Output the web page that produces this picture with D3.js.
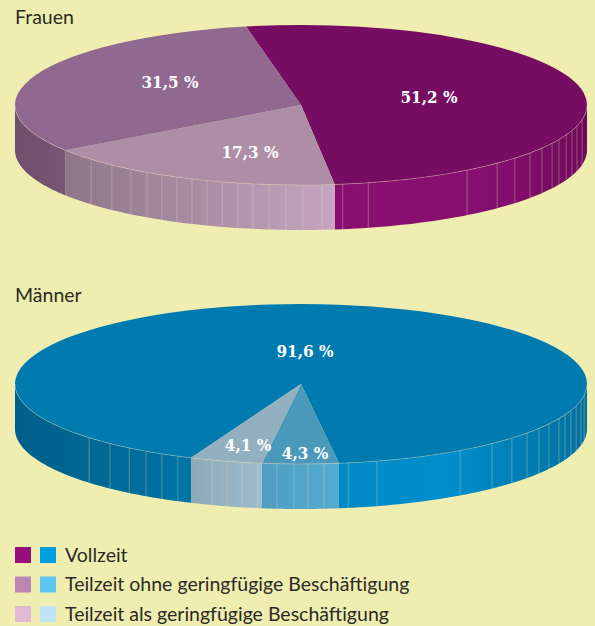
<!DOCTYPE html>
<html>
<head>
<meta charset="utf-8">
<script src="https://cdnjs.cloudflare.com/ajax/libs/d3/7.8.5/d3.min.js"></script>
<style>
html, body { margin: 0; padding: 0; background: #efedb0; }
svg { display: block; }
.title, .legend { font-family: "Lato"; font-size: 19.5px; fill: #2b2a26; }
.pct { font-family: "DejaVu Serif Condensed", "DejaVu Serif"; font-stretch: condensed; font-weight: bold; font-size: 17px; fill: #fff; text-anchor: middle; }
</style>
</head>
<body>
<script>
// values, clockwise as drawn
var frauenWerte = [51.2, 17.3, 31.5];
var maennerWerte = [91.6, 4.3, 4.1];
var frauenLabels = ["51,2 %", "17,3 %", "31,5 %"];
var maennerLabels = ["91,6 %", "4,3 %", "4,1 %"];
var legendTexts = ["Vollzeit", "Teilzeit ohne geringfügige Beschäftigung", "Teilzeit als geringfügige Beschäftigung"];

// colours per slice
var frauenTop = ["#760d62", "#ae8ea7", "#906890"];
var maennerTop = ["#007bb0", "#4a99ba", "#93b0c0"];
// wall colours run left to right over the width the slice takes up
var frauenWall = [["#880f70", "#880f70", "#840e6d", "#6f0a5a"], ["#8f7689", "#c5a5bf"], ["#6f4f6e", "#775573"]];
var maennerWall = [["#005f88", "#006f9f", "#0088c4", "#008fcc", "#00709f"], ["#4c9ec2", "#55acd0"], ["#8fa8b5", "#9cbdcd"]];
var legendFrauen = ["#960d7c", "#bb86b3", "#e4b9d6"];
var legendMaenner = ["#009fe0", "#5fc4ee", "#c0e4f6"];

// wall seams, degrees clockwise from the back of the disc
var frauenSeams = [100.7, 105.2, 108.6, 112, 115.6, 118.6, 122.6, 126.8, 131.6, 136.7, 144.5, 166.4, 171.6,
    175.8, 179.6, 183, 186.4, 189.7, 192.7, 196, 199.2, 202.4, 205.7, 209.1, 212.6, 216.5, 221.4, 227.2];
var maennerSeams = [98.1, 101.8, 105.8, 109.3, 112.6, 115.6, 119.9, 123.7, 127.8, 132.5, 138.1, 146.2, 164.6, 170.5,
    175.4, 178.6, 181.4, 184.8, 188.7, 191.9, 195, 198.1, 205.5, 209.1, 212.8, 216.9, 221.9, 227.8];

var w = 595;
var h = 626;
var rx = 286;
var ry = 80;
var depth = 45;

var svg = d3.select("body").append("svg")
    .attr("width", w)
    .attr("height", h);

var defs = svg.append("defs");

function drawDisc(name, cy, values, labels, startDeg, tops, walls, seams, labelPos) {
    var x = d3.scaleLinear().domain([-1, 1]).range([301 - rx, 301 + rx]);
    var y = d3.scaleLinear().domain([-1, 1]).range([cy - ry, cy + ry]);
    var rad = function(deg) { return deg * Math.PI / 180; };

    var slices = d3.pie().sort(null)
        .startAngle(rad(startDeg))
        .endAngle(rad(startDeg + 360))(values);

    var g = svg.append("g");

    var wallArea = d3.area()
        .x(function(a) { return x(Math.sin(a)); })
        .y0(function(a) { return y(-Math.cos(a)); })
        .y1(function(a) { return y(-Math.cos(a)) + depth; });

    // front wall of each slice, only the part facing us
    slices.forEach(function(s, i) {
        var ranges = [[s.startAngle, s.endAngle], [s.startAngle + 2 * Math.PI, s.endAngle + 2 * Math.PI]]
            .map(function(r) { return [Math.max(r[0], Math.PI / 2), Math.min(r[1], 3 * Math.PI / 2)]; })
            .filter(function(r) { return r[1] > r[0]; });

        var points = ranges.map(function(r) {
            return d3.range(0, 61).map(function(k) { return r[0] + (r[1] - r[0]) * k / 60; });
        });
        var xs = d3.merge(points).map(function(a) { return x(Math.sin(a)); });

        var id = name + "w" + i;
        var grad = defs.append("linearGradient")
            .attr("id", id)
            .attr("gradientUnits", "userSpaceOnUse")
            .attr("x1", d3.min(xs)).attr("x2", d3.max(xs))
            .attr("y1", 0).attr("y2", 0);
        walls[i].forEach(function(c, k) {
            grad.append("stop").attr("offset", k / (walls[i].length - 1)).attr("stop-color", c);
        });

        points.forEach(function(p) {
            g.append("path")
                .attr("d", wallArea(p))
                .attr("fill", "url(#" + id + ")");
        });
    });

    // pale seams on the wall
    g.selectAll("line.seam").data(seams).enter().append("line")
        .attr("class", "seam")
        .attr("x1", function(d) { return x(Math.sin(rad(d))); })
        .attr("x2", function(d) { return x(Math.sin(rad(d))); })
        .attr("y1", function(d) { return y(-Math.cos(rad(d))); })
        .attr("y2", function(d) { return y(-Math.cos(rad(d))) + depth; })
        .attr("stroke", "#e8d8c0")
        .attr("stroke-opacity", 0.35)
        .attr("stroke-width", 1);

    // top face, a circular pie squashed into an ellipse
    var arc = d3.arc().innerRadius(0).outerRadius(rx);
    var top = g.append("g").attr("transform", "translate(301," + cy + ") scale(1," + (ry / rx) + ")");
    top.selectAll("path").data(slices).enter().append("path")
        .attr("d", arc)
        .attr("fill", function(d, i) { return tops[i]; });

    // thin light rim along the front edge
    g.append("path")
        .attr("d", d3.line()
            .x(function(a) { return x(Math.sin(a)); })
            .y(function(a) { return y(-Math.cos(a)); })(d3.range(0, 121).map(function(k) { return Math.PI / 2 + Math.PI * k / 120; })))
        .attr("fill", "none")
        .attr("stroke", "#e8d8c0")
        .attr("stroke-opacity", 0.4)
        .attr("stroke-width", 0.8);

    g.selectAll("text").data(labels).enter().append("text")
        .attr("class", "pct")
        .attr("x", function(d, i) { return labelPos[i][0]; })
        .attr("y", function(d, i) { return labelPos[i][1]; })
        .text(function(d) { return d; });
}

drawDisc("f", 105, frauenWerte, frauenLabels, -11.1, frauenTop, frauenWall, frauenSeams,
    [[429, 103], [250, 158], [170, 88]]);
drawDisc("m", 384, maennerWerte, maennerLabels, -157.4, maennerTop, maennerWall, maennerSeams,
    [[305, 357], [305, 459], [248, 451]]);

svg.append("text").attr("class", "title").attr("x", 15).attr("y", 24).text("Frauen");
svg.append("text").attr("class", "title").attr("x", 15).attr("y", 302).text("Männer");

var legendY = d3.scalePoint().domain(legendTexts).range([555, 614]);
var rows = svg.selectAll("g.row").data(legendTexts).enter().append("g")
    .attr("class", "row")
    .attr("transform", function(d) { return "translate(0," + legendY(d) + ")"; });
rows.append("rect").attr("x", 15).attr("y", -8).attr("width", 16).attr("height", 16)
    .attr("fill", function(d, i) { return legendFrauen[i]; });
rows.append("rect").attr("x", 40).attr("y", -8).attr("width", 16).attr("height", 16)
    .attr("fill", function(d, i) { return legendMaenner[i]; });
rows.append("text").attr("class", "legend").attr("x", 65).attr("y", 6.5).text(function(d) { return d; });
</script>
</body>
</html>
